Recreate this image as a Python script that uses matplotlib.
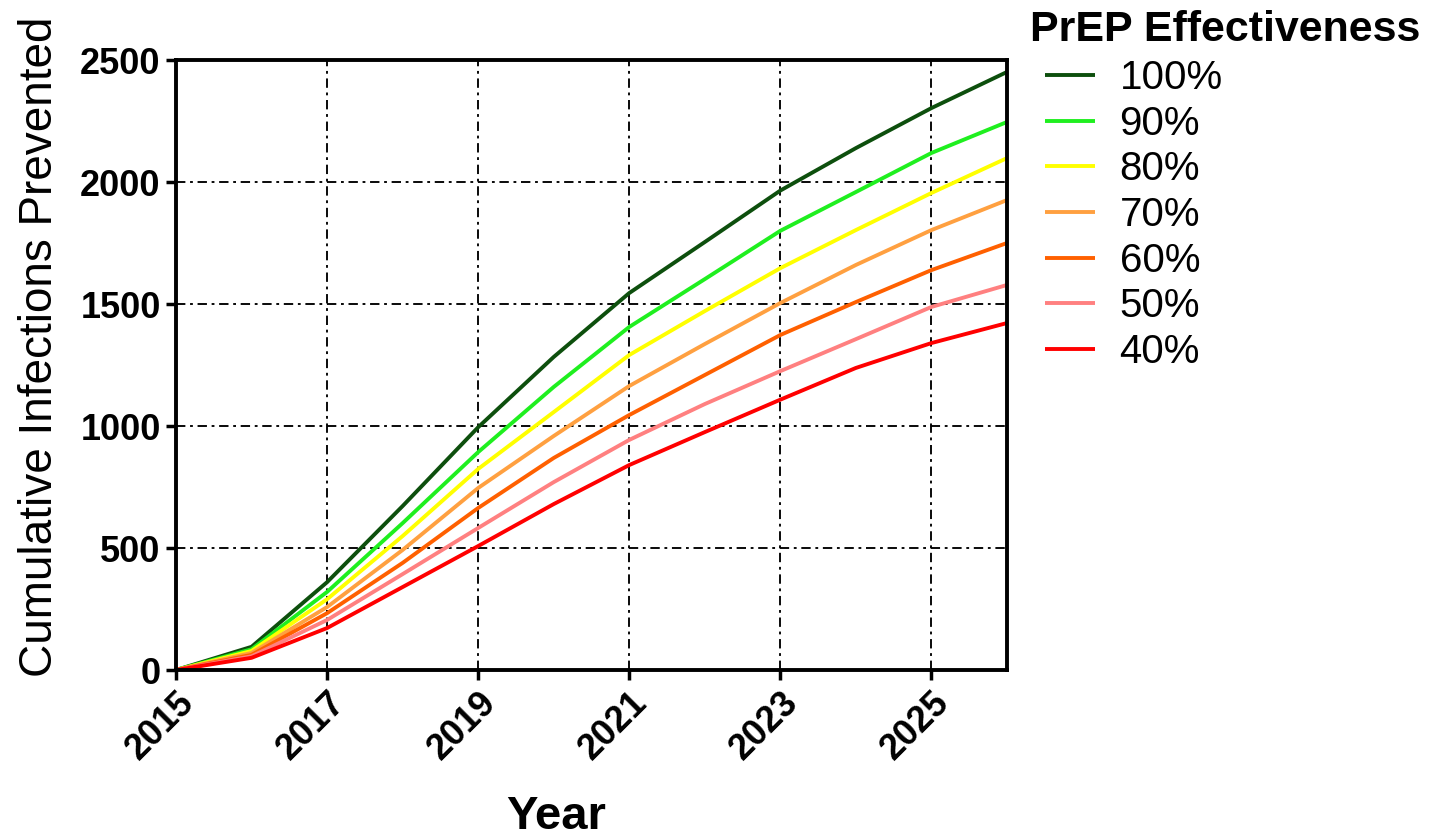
import matplotlib
matplotlib.use("Agg")
import matplotlib.pyplot as plt

years = [2015, 2016, 2017, 2018, 2019, 2020, 2021, 2022, 2023, 2024, 2025, 2026]

eff_100 = [0, 95, 360, 672, 995, 1283, 1545, 1754, 1965, 2139, 2303, 2451]
eff_90 = [0, 85, 320, 602, 893, 1160, 1406, 1602, 1800, 1959, 2119, 2246]
eff_80 = [0, 78, 290, 549, 824, 1057, 1291, 1471, 1647, 1803, 1955, 2098]
eff_70 = [0, 70, 258, 492, 746, 959, 1164, 1336, 1504, 1660, 1803, 1926]
eff_60 = [0, 62, 233, 439, 664, 869, 1045, 1209, 1373, 1508, 1639, 1750]
eff_50 = [0, 56, 205, 393, 582, 770, 943, 1090, 1225, 1356, 1488, 1578]
eff_40 = [0, 50, 172, 340, 508, 680, 840, 975, 1108, 1238, 1340, 1422]

labels = ["100%", "90%", "80%", "70%", "60%", "50%", "40%"]
series = [eff_100, eff_90, eff_80, eff_70, eff_60, eff_50, eff_40]
colors = ["#0d4f0d", "#1fef1f", "#ffff00", "#ffa040", "#ff6000", "#ff8080", "#ff0000"]

xticks = [2015, 2017, 2019, 2021, 2023, 2025]
yticks = [0, 500, 1000, 1500, 2000, 2500]

plt.rcParams['font.family'] = ['Liberation Sans', 'DejaVu Sans']

W, H = 1434, 839
fig = plt.figure(figsize=(W / 100, H / 100), dpi=100)
ax = fig.add_axes([176 / W, 1 - 670 / H, (1007 - 176) / W, (670 - 60) / H])

for vals, lab, col in zip(series, labels, colors):
    ax.plot(years, vals, color=col, lw=2.8, label=lab, solid_capstyle='butt')

ax.set_xlim(2015, 2026)
ax.set_ylim(0, 2500)
ax.set_xticks(xticks)
ax.set_yticks(yticks)
ax.set_xticklabels([str(t) for t in xticks], rotation=45, ha='right',
                   rotation_mode='anchor', fontsize=26, fontweight='bold')
ax.set_yticklabels([str(t) for t in yticks], fontsize=26, fontweight='bold')

ax.grid(True, color='black', lw=1.35, linestyle=(0, (5, 2.5, 1.5, 2.5)))
ax.set_axisbelow(True)

for s in ax.spines.values():
    s.set_linewidth(2.8)
    s.set_color('black')
ax.tick_params(axis='both', direction='out', length=7, width=2.5, pad=4, colors='black')

ax.set_ylabel("Cumulative Infections Prevented", fontsize=33)
ax.yaxis.set_label_coords((62 - 176) / 831, (670 - 347) / 610)
ax.set_xlabel("Year", fontsize=34, fontweight='bold')
ax.xaxis.set_label_coords(0.458, -0.205)

fig.text(1030 / W, 1 - 30 / H, "PrEP Effectiveness", fontsize=31,
         fontweight='bold', ha='left', va='center')

leg = fig.legend(loc='upper left', bbox_to_anchor=(1045 / W, 1 - 59 / H),
                 frameon=False, fontsize=29,
                 handlelength=1.25, handletextpad=0.6, labelspacing=0.19,
                 borderaxespad=0, borderpad=0)

fig.savefig("out.png", dpi=100)
